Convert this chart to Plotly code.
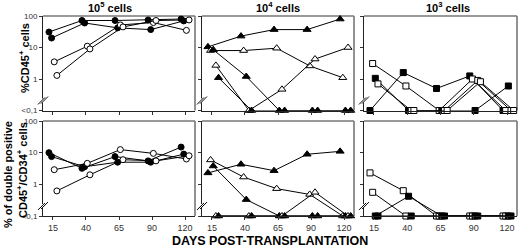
import plotly.graph_objects as go

days = ["15", "40", "65", "90", "120"]
y_tick_vals = [0.1, 1, 10, 100]
y_tick_text = ["<0,1", "1", "10", "100"]
panel_titles = ["10<sup>5</sup> cells", "10<sup>4</sup> cells", "10<sup>3</sup> cells"]

# values below detection (<0,1) are stored as 0.1
# top row: %CD45+ cells
cd45_1e5_filled_a = [31, 72, 72, 75, 80]
cd45_1e5_filled_b = [20, 60, 42, 37, 70]
cd45_1e5_open_a = [3.5, 11, 52, 62, 35]
cd45_1e5_open_b = [1.3, 9, 45, 72, 75]

cd45_1e4_filled_a = [10.5, 23, 37, 37, 80]
cd45_1e4_open_a = [8, 8, 9.5, 2.6, 1.1]
cd45_1e4_filled_b = [8.5, 1.2, 0.1, 0.1, 0.1]
cd45_1e4_open_b = [2.7, 0.1, 0.47, 4.3, 10]
cd45_1e4_filled_c = [1.1, 0.1, 0.1, 0.1, 0.1]

cd45_1e3_filled_a = [0.1, 1.6, 0.5, 1.25, 0.1]
cd45_1e3_open_a = [3.1, 0.6, 0.1, 1.0, 0.1]
cd45_1e3_filled_b = [1.05, 0.1, 0.1, 0.1, 0.6]
cd45_1e3_open_b = [0.7, 0.1, 0.1, 0.9, 0.1]
cd45_1e3_open_c = [None, 0.1, 0.1, 0.82, 0.1]

# bottom row: % of double positive CD45+/CD34+ cells
dp_1e5_filled_a = [10, 3.2, 7.5, 5.5, 15]
dp_1e5_filled_b = [7.5, 3.6, 5, 5, 9]
dp_1e5_open_a = [2.9, 4.6, 12.5, 9.5, 6.3]
dp_1e5_open_b = [0.62, 2.0, 6, 5.5, 8]

dp_1e4_filled_a = [2.3, 4.3, 2.7, 8.9, 11]
dp_1e4_open_a = [5.9, 1.7, 0.73, 0.48, 0.1]
dp_1e4_filled_b = [3.8, 0.33, 0.1, 0.1, 0.1]
dp_1e4_open_b = [0.1, 0.1, 0.1, 0.56, 0.1]
dp_1e4_filled_c = [0.1, 0.1, 0.1, 0.1, 0.1]

dp_1e3_open_a = [2.3, 0.63, 0.1, 0.1, 0.1]
dp_1e3_open_b = [0.56, 0.1, 0.1, 0.1, 0.1]
dp_1e3_filled_a = [0.1, 0.42, 0.1, 0.1, 0.1]
dp_1e3_filled_b = [0.1, 0.1, 0.1, 0.1, 0.1]

W, H = 520, 247
ML, MR, MT, MB = 43, 3, 16, 31
PW, PH = W - ML - MR, H - MT - MB

def px2x(px):
    return (px - ML) / PW

def px2y(py):
    return 1 - (py - MT) / PH

col_px = [(43, 195), (202, 354), (364, 517)]
row_px = [(16, 110.5), (121, 216)]
col_dom = [[px2x(a), px2x(b)] for a, b in col_px]
row_dom = [[px2y(b), px2y(a)] for a, b in row_px]

panels = [
    # (row, col, symbol, [(values, filled)])
    (0, 0, "circle", [(cd45_1e5_filled_a, True), (cd45_1e5_filled_b, True),
                      (cd45_1e5_open_a, False), (cd45_1e5_open_b, False)]),
    (0, 1, "triangle-up", [(cd45_1e4_filled_a, True), (cd45_1e4_open_a, False),
                           (cd45_1e4_filled_b, True), (cd45_1e4_open_b, False),
                           (cd45_1e4_filled_c, True)]),
    (0, 2, "square", [(cd45_1e3_filled_a, True), (cd45_1e3_open_a, False),
                      (cd45_1e3_filled_b, True), (cd45_1e3_open_b, False),
                      (cd45_1e3_open_c, False)]),
    (1, 0, "circle", [(dp_1e5_filled_a, True), (dp_1e5_filled_b, True),
                      (dp_1e5_open_a, False), (dp_1e5_open_b, False)]),
    (1, 1, "triangle-up", [(dp_1e4_filled_a, True), (dp_1e4_open_a, False),
                           (dp_1e4_filled_b, True), (dp_1e4_open_b, False),
                           (dp_1e4_filled_c, True)]),
    (1, 2, "square", [(dp_1e3_open_a, False), (dp_1e3_open_b, False),
                      (dp_1e3_filled_a, True), (dp_1e3_filled_b, True)]),
]

offsets = [-0.12, -0.04, 0.04, 0.12, 0.2]
sizes = {"circle": 6, "triangle-up": 7, "square": 6}

fig = go.Figure()
font = "Liberation Sans, Arial, sans-serif"
shapes = []
annotations = []

for row, col, symbol, series in panels:
    idx = row * 3 + col + 1
    xa = "x" if idx == 1 else f"x{idx}"
    ya = "y" if idx == 1 else f"y{idx}"
    for k, (vals, filled) in enumerate(series):
        xs = [i + offsets[k] for i in range(len(days))]
        fig.add_trace(go.Scatter(
            x=xs, y=vals, mode="lines+markers", xaxis=xa, yaxis=ya,
            line=dict(color="black", width=1),
            marker=dict(symbol=symbol, size=sizes[symbol],
                        color="black" if filled else "white",
                        line=dict(color="black", width=1)),
            showlegend=False, cliponaxis=False, connectgaps=True))
    xkey = "xaxis" if idx == 1 else f"xaxis{idx}"
    ykey = "yaxis" if idx == 1 else f"yaxis{idx}"
    fig.update_layout(**{
        xkey: dict(domain=col_dom[col], anchor=ya, range=[-0.3, 4.3],
                   tickvals=list(range(len(days))), ticktext=days,
                   showticklabels=(row == 1), ticks="outside", ticklen=3,
                   tickcolor="#333", showline=True, linecolor="#222",
                   mirror=False, showgrid=False, zeroline=False,
                   tickfont=dict(size=9, color="#333", family=font)),
        ykey: dict(domain=row_dom[row], anchor=xa, type="log", range=[-1, 2],
                   tickvals=y_tick_vals, ticktext=y_tick_text,
                   showticklabels=(col == 0), ticks="outside", ticklen=3,
                   tickcolor="#333", showline=True, linecolor="#222",
                   mirror=False, showgrid=False, zeroline=False,
                   tickfont=dict(size=8, color="#333", family=font)),
    })
    # grey top and right frame edges
    x0p, x1p = px2x(col_px[col][0]), px2x(col_px[col][1])
    y0p, y1p = px2y(row_px[row][1]), px2y(row_px[row][0])
    shapes.append(dict(type="line", xref="paper", yref="paper", layer="below",
                       x0=x0p, x1=x1p, y0=y1p, y1=y1p,
                       line=dict(color="#777", width=1.6)))
    shapes.append(dict(type="line", xref="paper", yref="paper", layer="below",
                       x0=x1p, x1=x1p, y0=y0p, y1=y1p,
                       line=dict(color="#777", width=1.6)))
    # axis break marks
    ax_px = col_px[col][0]
    by = row_px[row][1] - 10
    shapes.append(dict(type="line", xref="paper", yref="paper",
                       x0=px2x(ax_px), x1=px2x(ax_px), y0=px2y(by + 2), y1=px2y(by - 2),
                       line=dict(color="white", width=3)))
    for dx in (-1.5, 1.5):
        shapes.append(dict(type="line", xref="paper", yref="paper",
                           x0=px2x(ax_px - 3.5 + dx), y0=px2y(by + 3.5 - dx * 0.3),
                           x1=px2x(ax_px + 3.5 + dx), y1=px2y(by - 3.5 - dx * 0.3),
                           line=dict(color="black", width=1)))

title_px = [110, 278, 448]
for c in range(3):
    annotations.append(dict(text=f"<b>{panel_titles[c]}</b>", xref="paper", yref="paper",
                            x=px2x(title_px[c]), y=px2y(7), showarrow=False,
                            xanchor="center", yanchor="middle",
                            font=dict(size=11, family=font, color="black")))

annotations.append(dict(text="<b>%CD45<sup>+</sup> cells</b>", xref="paper", yref="paper",
                        x=px2x(24), y=px2y(58), showarrow=False, textangle=-90,
                        xanchor="center", yanchor="middle",
                        font=dict(size=11, family=font, color="black")))
annotations.append(dict(text="<b>% of double positive</b>", xref="paper", yref="paper",
                        x=px2x(8), y=px2y(175), showarrow=False, textangle=-90,
                        xanchor="center", yanchor="middle",
                        font=dict(size=11, family=font, color="black")))
annotations.append(dict(text="<b>CD45<sup>+</sup>/CD34<sup>+</sup> cells</b>", xref="paper", yref="paper",
                        x=px2x(22), y=px2y(170), showarrow=False, textangle=-90,
                        xanchor="center", yanchor="middle",
                        font=dict(size=11, family=font, color="black")))
annotations.append(dict(text="<b>DAYS POST-TRANSPLANTATION</b>", xref="paper", yref="paper",
                        x=px2x(270), y=px2y(241), showarrow=False,
                        xanchor="center", yanchor="middle",
                        font=dict(size=12.5, family=font, color="black")))

fig.update_layout(width=W, height=H, margin=dict(l=ML, r=MR, t=MT, b=MB),
                  plot_bgcolor="white", paper_bgcolor="white",
                  shapes=shapes, annotations=annotations, font=dict(family=font))

fig.write_html("out.html", config={"displayModeBar": False},
               post_script="document.body.style.margin='0';document.body.style.overflow='hidden';")
